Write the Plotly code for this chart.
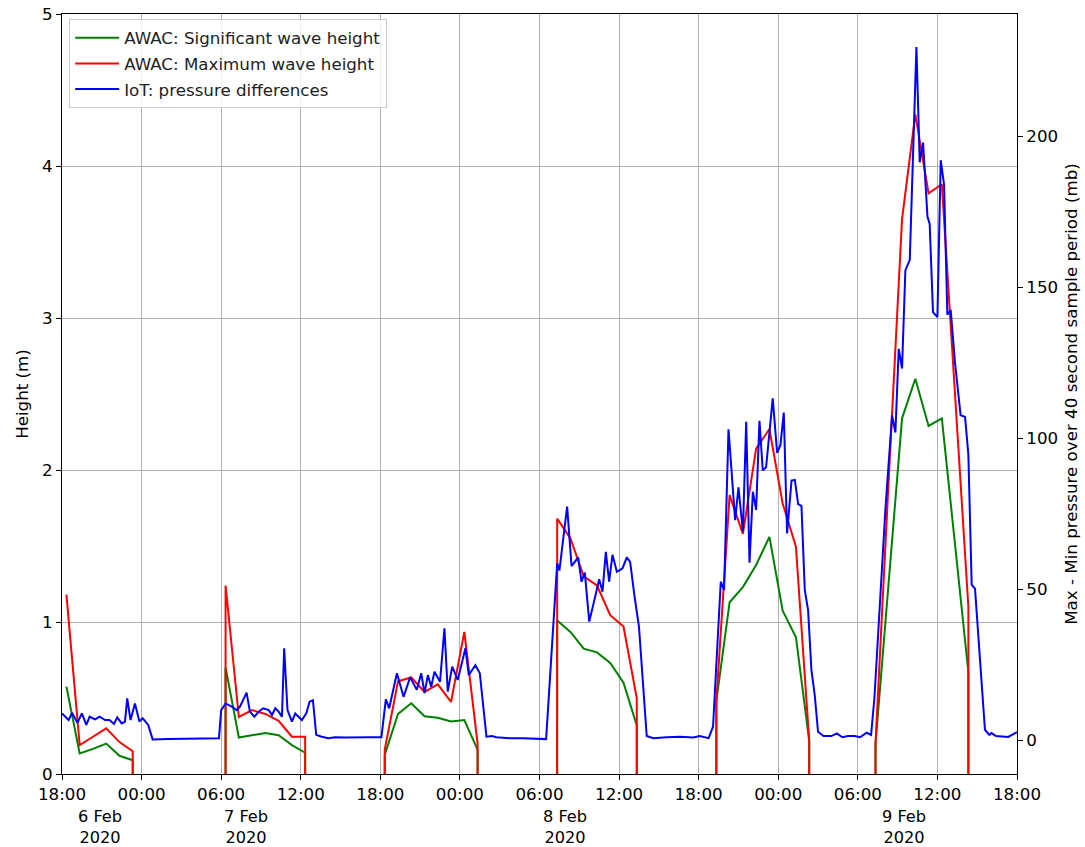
import plotly.graph_objects as go

MISSING = -999.0  # AWAC missing-data fill value (drawn off-chart)

# ---------------- AWAC (hourly, left axis, metres) ----------------
awac_time = [
    "2020-02-05 18:20", "2020-02-05 19:20", "2020-02-05 20:20", "2020-02-05 21:20", "2020-02-05 22:20", "2020-02-05 23:20",
    "2020-02-06 03:20",
    "2020-02-06 06:20", "2020-02-06 07:20", "2020-02-06 08:20", "2020-02-06 09:20", "2020-02-06 10:20", "2020-02-06 11:20", "2020-02-06 12:20",
    "2020-02-06 15:20",
    "2020-02-06 18:20", "2020-02-06 19:20", "2020-02-06 20:20", "2020-02-06 21:20", "2020-02-06 22:20", "2020-02-06 23:20", "2020-02-07 00:20", "2020-02-07 01:20",
    "2020-02-07 04:20",
    "2020-02-07 07:20", "2020-02-07 08:20", "2020-02-07 09:20", "2020-02-07 10:20", "2020-02-07 11:20", "2020-02-07 12:20", "2020-02-07 13:20",
    "2020-02-07 16:20",
    "2020-02-07 19:20", "2020-02-07 20:20", "2020-02-07 21:20", "2020-02-07 22:20", "2020-02-07 23:20", "2020-02-08 00:20", "2020-02-08 01:20", "2020-02-08 02:20",
    "2020-02-08 05:00",
    "2020-02-08 07:20", "2020-02-08 08:20", "2020-02-08 09:20", "2020-02-08 10:20", "2020-02-08 11:20", "2020-02-08 12:20", "2020-02-08 13:20", "2020-02-08 14:20",
    "2020-02-08 16:20",
]

awac_hs = [
    0.575, 0.135, 0.165, 0.20, 0.12, 0.09,
    MISSING,
    0.70, 0.24, 0.255, 0.27, 0.255, 0.19, 0.14,
    MISSING,
    0.125, 0.395, 0.465, 0.38, 0.37, 0.345, 0.355, 0.16,
    MISSING,
    1.01, 0.935, 0.825, 0.80, 0.73, 0.60, 0.32,
    MISSING,
    0.48, 1.13, 1.23, 1.375, 1.56, 1.075, 0.90, 0.22,
    MISSING,
    0.20, 1.27, 2.34, 2.60, 2.29, 2.34, 1.50, 0.67,
    MISSING,
]

awac_hmax = [
    1.18, 0.19, 0.245, 0.30, 0.21, 0.15,
    MISSING,
    1.24, 0.375, 0.42, 0.395, 0.35, 0.245, 0.245,
    MISSING,
    0.16, 0.61, 0.635, 0.54, 0.59, 0.475, 0.935, 0.20,
    MISSING,
    1.68, 1.55, 1.30, 1.24, 1.045, 0.97, 0.50,
    MISSING,
    0.48, 1.835, 1.58, 2.14, 2.27, 1.78, 1.495, 0.22,
    MISSING,
    0.20, 1.95, 3.65, 4.34, 3.82, 3.88, 2.50, 1.10,
    MISSING,
]

# ---------------- IoT pressure differences (right axis, mb) ----------------
iot_time = [
    "2020-02-05 18:00", "2020-02-05 18:30", "2020-02-05 18:45", "2020-02-05 19:10", "2020-02-05 19:30", "2020-02-05 19:50",
    "2020-02-05 20:05", "2020-02-05 20:30", "2020-02-05 20:50", "2020-02-05 21:15", "2020-02-05 21:35", "2020-02-05 21:55",
    "2020-02-05 22:10", "2020-02-05 22:30", "2020-02-05 22:45", "2020-02-05 22:55", "2020-02-05 23:10", "2020-02-05 23:30",
    "2020-02-05 23:50", "2020-02-06 00:05", "2020-02-06 00:30", "2020-02-06 00:50", "2020-02-06 02:00", "2020-02-06 04:00",
    "2020-02-06 05:50", "2020-02-06 06:00", "2020-02-06 06:20", "2020-02-06 06:50", "2020-02-06 07:10", "2020-02-06 07:25",
    "2020-02-06 07:55", "2020-02-06 08:10", "2020-02-06 08:30", "2020-02-06 08:50", "2020-02-06 09:10", "2020-02-06 09:35",
    "2020-02-06 09:50", "2020-02-06 10:05", "2020-02-06 10:20", "2020-02-06 10:35", "2020-02-06 10:45", "2020-02-06 11:00",
    "2020-02-06 11:20", "2020-02-06 11:35", "2020-02-06 11:50", "2020-02-06 12:05", "2020-02-06 12:25", "2020-02-06 12:40",
    "2020-02-06 12:55", "2020-02-06 13:10", "2020-02-06 13:35", "2020-02-06 14:05", "2020-02-06 14:35", "2020-02-06 15:20",
    "2020-02-06 17:15", "2020-02-06 18:05", "2020-02-06 18:25", "2020-02-06 18:40", "2020-02-06 19:15", "2020-02-06 19:45",
    "2020-02-06 20:15", "2020-02-06 20:45", "2020-02-06 21:05", "2020-02-06 21:20", "2020-02-06 21:35", "2020-02-06 21:50",
    "2020-02-06 22:05", "2020-02-06 22:30", "2020-02-06 22:50", "2020-02-06 23:05", "2020-02-06 23:25", "2020-02-06 23:50",
    "2020-02-07 00:25", "2020-02-07 00:40", "2020-02-07 01:10", "2020-02-07 01:30", "2020-02-07 02:00", "2020-02-07 02:25",
    "2020-02-07 02:45", "2020-02-07 03:45", "2020-02-07 04:45", "2020-02-07 05:45", "2020-02-07 06:30", "2020-02-07 07:20",
    "2020-02-07 07:30", "2020-02-07 08:05", "2020-02-07 08:25", "2020-02-07 08:55", "2020-02-07 09:10", "2020-02-07 09:25",
    "2020-02-07 09:45", "2020-02-07 10:10", "2020-02-07 10:30", "2020-02-07 10:45", "2020-02-07 11:00", "2020-02-07 11:15",
    "2020-02-07 11:30", "2020-02-07 11:50", "2020-02-07 12:15", "2020-02-07 12:35", "2020-02-07 12:50", "2020-02-07 13:10",
    "2020-02-07 13:30", "2020-02-07 14:05", "2020-02-07 14:35", "2020-02-07 15:35", "2020-02-07 16:35", "2020-02-07 17:35",
    "2020-02-07 18:05", "2020-02-07 18:45", "2020-02-07 19:05", "2020-02-07 19:40", "2020-02-07 19:55", "2020-02-07 20:15",
    "2020-02-07 20:45", "2020-02-07 21:00", "2020-02-07 21:20", "2020-02-07 21:35", "2020-02-07 21:50", "2020-02-07 22:05",
    "2020-02-07 22:20", "2020-02-07 22:35", "2020-02-07 22:50", "2020-02-07 23:05", "2020-02-07 23:35", "2020-02-07 23:55",
    "2020-02-08 00:10", "2020-02-08 00:25", "2020-02-08 00:40", "2020-02-08 01:00", "2020-02-08 01:15", "2020-02-08 01:30",
    "2020-02-08 01:45", "2020-02-08 02:00", "2020-02-08 02:15", "2020-02-08 02:30", "2020-02-08 02:45", "2020-02-08 03:00",
    "2020-02-08 03:25", "2020-02-08 04:00", "2020-02-08 04:25", "2020-02-08 04:50", "2020-02-08 05:15", "2020-02-08 05:45",
    "2020-02-08 06:10", "2020-02-08 06:40", "2020-02-08 07:00", "2020-02-08 07:15", "2020-02-08 07:40", "2020-02-08 08:05",
    "2020-02-08 08:35", "2020-02-08 08:50", "2020-02-08 09:05", "2020-02-08 09:20", "2020-02-08 09:35", "2020-02-08 09:55",
    "2020-02-08 10:25", "2020-02-08 10:40", "2020-02-08 10:55", "2020-02-08 11:15", "2020-02-08 11:25", "2020-02-08 11:40",
    "2020-02-08 12:00", "2020-02-08 12:15", "2020-02-08 12:30", "2020-02-08 12:45", "2020-02-08 13:00", "2020-02-08 13:20",
    "2020-02-08 13:45", "2020-02-08 14:05", "2020-02-08 14:20", "2020-02-08 14:35", "2020-02-08 14:50", "2020-02-08 15:35",
    "2020-02-08 15:55", "2020-02-08 16:05", "2020-02-08 16:25", "2020-02-08 17:20", "2020-02-08 18:00",
]

iot_diff = [
    8.8, 6.6, 9.0, 5.7, 8.8, 5.0,
    7.7, 6.8, 7.7, 6.6, 6.6, 5.3,
    7.5, 5.5, 6.1, 13.8, 6.6, 12.1,
    6.1, 7.2, 5.0, 0.2, 0.3, 0.4,
    0.6, 9.9, 12.1, 11.0, 9.9, 11.0,
    15.7, 9.4, 7.7, 9.4, 10.5, 9.9,
    8.3, 10.5, 9.4, 7.7, 30.4, 9.9,
    6.1, 8.8, 7.7, 6.6, 8.8, 12.7,
    13.2, 1.7, 1.1, 0.6, 0.9, 0.8,
    0.9, 0.9, 13.5, 10.5, 22.1, 14.3,
    20.8, 16.6, 22.1, 15.5, 21.5, 17.6,
    22.6, 19.3, 37.0, 16.0, 24.3, 19.9,
    30.4, 21.5, 24.8, 22.1, 1.1, 1.3,
    0.9, 0.6, 0.6, 0.3, 0.3, 58.5,
    56.1, 77.3, 57.6, 60.5, 52.4, 55.4,
    39.2, 46.9, 53.2, 49.1, 62.3, 52.4,
    61.3, 55.7, 56.8, 60.5, 59.0, 47.5,
    37.5, 1.3, 0.6, 0.9, 1.1, 0.8,
    1.3, 0.6, 4.4, 52.4, 49.7, 102.9,
    72.8, 83.7, 69.0, 105.4, 58.7, 82.2,
    76.2, 105.7, 89.3, 90.3, 113.1, 95.1,
    97.7, 108.4, 68.4, 85.9, 86.1, 78.1,
    77.5, 49.7, 43.0, 23.2, 14.9, 2.7,
    1.3, 1.3, 2.2, 0.9, 1.3, 1.3,
    0.9, 2.4, 1.7, 13.9, 46.0, 76.7,
    107.5, 101.8, 129.5, 123.0, 155.5, 159.0,
    229.5, 191.3, 197.8, 173.3, 170.9, 141.7,
    140.0, 192.0, 183.9, 140.8, 142.4, 124.6,
    107.5, 107.0, 94.5, 51.4, 50.1, 3.4,
    1.7, 2.3, 1.3, 1.0, 2.6,
]

# ---------------- axis labelling ----------------
x_start = "2020-02-05 18:00"
x_end = "2020-02-08 18:00"
date_labels = ["6 Feb<br>2020", "7 Feb<br>2020", "8 Feb<br>2020", "9 Feb<br>2020"]
date_label_pos = [0.0398, 0.1927, 0.5267, 0.8817]

FONT = "DejaVu Sans"
FS = 16.7

fig = go.Figure()
fig.add_trace(go.Scatter(x=awac_time, y=awac_hs, mode="lines", name="AWAC: Significant wave height",
                         legendgroup="g1", line=dict(color="#008000", width=2)))
fig.add_trace(go.Scatter(x=awac_time, y=awac_hmax, mode="lines", name="AWAC: Maximum wave height",
                         legendgroup="g2", line=dict(color="#ff0000", width=2)))
fig.add_trace(go.Scatter(x=iot_time, y=iot_diff, mode="lines", name="IoT: pressure differences",
                         legendgroup="g3", line=dict(color="#0000ff", width=2), yaxis="y2"))

for txt, px in zip(date_labels, date_label_pos):
    fig.add_annotation(text=txt, x=px, y=-0.0695, xref="paper", yref="paper", showarrow=False,
                       xanchor="center", yanchor="middle", borderpad=0,
                       font=dict(family=FONT, size=16.2, color="black"))

fig.update_layout(
    width=1085, height=847,
    margin=dict(l=62, r=68, t=14, b=73, autoexpand=False),
    paper_bgcolor="white", plot_bgcolor="white",
    font=dict(family=FONT, size=FS, color="black"),
    showlegend=True,
    legend=dict(x=0.0075, y=0.993, xanchor="left", yanchor="top",
                bgcolor="rgba(255,255,255,0.8)", bordercolor="#cccccc", borderwidth=1,
                tracegroupgap=1, itemwidth=44,
                font=dict(family=FONT, size=FS, color="#222222")),
    xaxis=dict(
        type="date", range=[x_start, x_end], automargin=False,
        tick0=x_start, dtick=6 * 3600 * 1000, tickformat="%H:%M",
        showgrid=True, gridcolor="#b0b0b0", gridwidth=1,
        showline=True, linecolor="black", linewidth=1, mirror=True,
        ticks="outside", ticklen=5, tickcolor="black",
        tickfont=dict(family=FONT, size=FS, color="black"),
        zeroline=False,
    ),
    yaxis=dict(
        range=[0, 5], dtick=1, tick0=0, automargin=False,
        showgrid=True, gridcolor="#b0b0b0", gridwidth=1,
        showline=True, linecolor="black", linewidth=1,
        ticks="outside", ticklen=5, tickcolor="black",
        title=dict(text="Height (m)", standoff=9, font=dict(family=FONT, size=FS)),
        tickfont=dict(family=FONT, size=FS, color="black"),
        zeroline=False,
    ),
    yaxis2=dict(
        overlaying="y", side="right", automargin=False,
        range=[-11.26, 240.4], tickvals=[0, 50, 100, 150, 200],
        showgrid=False,
        showline=True, linecolor="black", linewidth=1,
        ticks="outside", ticklen=5, tickcolor="black",
        title=dict(text="Max - Min pressure over 40 second sample period (mb)", standoff=8,
                   font=dict(family=FONT, size=FS)),
        tickfont=dict(family=FONT, size=FS, color="black"),
        zeroline=False,
    ),
)

fig.write_html("out.html")
